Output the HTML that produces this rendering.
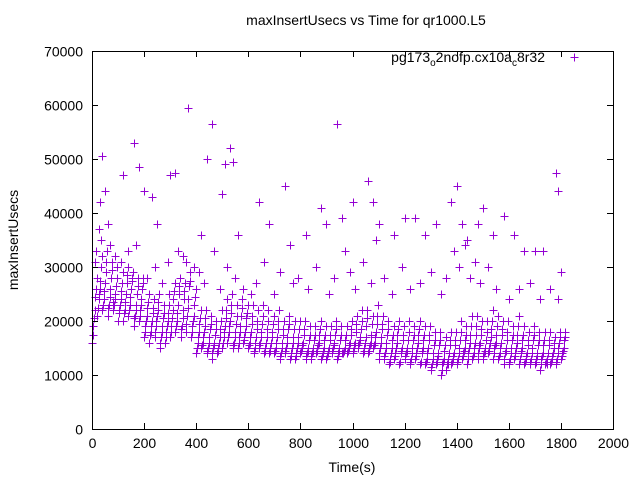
<!DOCTYPE html>
<html><head><meta charset="utf-8"><style>
html,body{margin:0;padding:0;background:#fff;}
svg{display:block;font-family:"Liberation Sans",sans-serif;}
</style></head><body>
<svg id="chart" width="640" height="480" viewBox="0 0 640 480" xmlns="http://www.w3.org/2000/svg">
<text x="366" y="25" font-size="14" text-anchor="middle">maxInsertUsecs vs Time for qr1000.L5</text>
<g id="marks"></g>
<rect x="92.5" y="51.5" width="521" height="378" fill="none" stroke="#000" stroke-width="1"/>
<g id="axes"></g>
<text transform="translate(18,240) rotate(-90)" font-size="14" text-anchor="middle">maxInsertUsecs</text>
<text x="352" y="472" font-size="14" text-anchor="middle">Time(s)</text>
<g>
<text x="545" y="62" font-size="14" text-anchor="end">pg173<tspan font-size="10" dy="4">o</tspan><tspan dy="-4">2nofp.cx10a</tspan><tspan font-size="10" dy="4">c</tspan><tspan dy="-4">8r32</tspan></text>
<path d="M570.5 57.5h8M574.5 53.5v8" stroke="#9400d3" stroke-width="1"/>
</g>
</svg>
<script>
const xTicks=[0,200,400,600,800,1000,1200,1400,1600,1800,2000];
const yTicks=[0,10000,20000,30000,40000,50000,60000,70000];
const bandLo=[16,21,22,21,22,20,20,21,19,20,17,16,17,15,16,17,18,17,18,17,14,15,14,13,14,15,16,15,15,16,15,14,15,14,14,14,13,14,13,13,14,13,13,14,13,13,14,13,14,14,14,15,14,14,15,13,13,12,13,12,13,12,13,12,12,11,12,10,11,12,12,13,12,13,13,13,14,13,13,12,12,13,12,12,12,12,11,12,12,12,13];
const bandMid=[22,26,27,26,25,24,25,26,23,24,21,20,21,19,20,22,23,22,24,21,18,18,17,16,17,19,20,18,19,19,18,17,18,17,17,17,16,17,16,16,16,15,15,16,15,15,16,15,15,16,16,17,17,16,18,17,16,15,16,15,15,15,16,15,15,14,14,13,14,14,15,15,16,16,16,15,17,16,16,15,15,16,15,14,15,14,14,14,14,15,15];
const bandHi=[28,32,33,31,30,29,30,29,28,28,25,24,25,23,25,27,28,27,29,26,22,22,21,20,22,24,25,23,24,23,23,22,23,22,21,22,20,21,20,20,20,19,19,20,19,19,20,19,19,20,21,22,22,21,23,21,20,19,20,19,20,19,20,19,19,18,18,17,18,18,20,19,21,21,20,20,22,21,20,20,19,21,19,18,19,18,18,18,17,18,18];
const bandAlt=[19,24,24,23,23,22,22,23,21,22,19,18,19,17,18,19,20,19,21,19,16,16,15,15,15,17,18,16,17,17,16,15,16,15,15,15,14,15,14,14,15,14,14,15,14,14,15,14,14,15,15,16,15,15,16,15,14,13,14,14,14,13,14,14,13,12,13,12,12,13,13,14,14,14,15,14,15,15,14,14,13,14,14,13,13,13,13,12,13,13,14];
const bandB5=[24.5,27.5,29,28,26.5,25.5,27,27.5,25,26,22.5,21.5,22,20.5,21.5,24,25,24,26.5,23,19.5,19,18.5,17.5,18.5,20.5,21.5,19.5,21,20.5,19.5,18.5,19.5,18.5,18,18.5,17.5,18.5,17,17,17.5,16.5,16.5,17.5,16.5,16.5,17.5,16.5,16.5,17.5,18,18.5,19,17.5,19.5,18.5,17.5,16.5,17.5,16.5,16.5,16.5,17.5,16.5,16.5,15.5,15.5,14.5,15.5,15.5,16.5,16.5,17.5,17.5,17.5,16.5,18.5,17.5,17.5,16.5,16.5,17.5,16.5,15.5,16.5,15.5,15.5,15.5,15,16,16.5];
const bandB6=[17.5,22.5,23,22.5,23.5,21.5,21.5,22,20.5,21,18,17.5,18,16,17,18,19,18.5,19.5,18,15,15.5,14.5,14,14.5,16,17,15.5,16,16.5,15.5,14.5,15.5,14.5,14.5,14.5,13.5,14.5,13.5,13.5,14.5,13.5,13.5,14.5,13.5,13.5,14.5,13.5,14,14.5,14.5,15.5,14.5,14.5,15.5,14,13.5,12.5,13.5,12.5,13.5,12.5,13.5,12.5,12.5,11.5,12.5,11,12,12.5,12.5,13.5,13,13.5,14,13.5,14.5,14,13.5,13,12.5,13.5,13,12.5,12.5,12.5,12,12.5,12.5,12.5,13.5];
const bandB7=[26,30,31,29.5,28,27,28.5,28,26.5,27,23.5,22.5,23.5,21.5,23,25.5,26.5,25.5,27.5,24.5,20.5,20.5,19.5,18.5,20,22,23,21,22.5,21.5,21,20,21,20,19.5,20,18.5,19.5,18.5,18.5,18.5,17.5,17.5,18.5,17.5,17.5,18.5,17.5,17.5,18.5,19.5,20,20.5,19.5,21,19.5,18.5,17.5,18.5,17.5,18,17.5,18.5,17.5,17.5,16.5,16.5,15.5,16.5,16.5,18,17.5,19,19,18.5,18,20,19,18.5,18,17.5,19,17.5,16.5,17.5,16.5,16.5,16.5,16,17,17];
const bandB8=[20.5,25,25.5,24.5,24,23,23.5,24.5,22,23,20,19,20,18,19,20.5,21.5,20.5,22.5,20,17,17,16,15.5,16,18,19,17,18,18,17,16,17,16,16,16,15,16,15,15,15.5,14.5,14.5,15.5,14.5,14.5,15.5,14.5,14.5,15.5,15.5,16.5,16,15.5,17,16,15,14,15,14.5,14.5,14,15,14.5,14,13,13.5,12.5,13,13.5,14,14.5,15,15,15.5,14.5,16,15.5,15,14.5,14,15,14.5,13.5,14,13.5,13.5,13,13.5,14,14.5];
const scatT=[15,35,70,90,110,140,170,210,240,270,290,330,350,390,410,430,470,490,520,550,580,610,630,660,700,720,770,790,830,860,910,930,970,990,1010,1040,1070,1090,1120,1150,1190,1220,1260,1300,1340,1360,1390,1410,1430,1450,1470,1490,1520,1550,1600,1640,1680,1720,1760,1790];
const scatV=[33,35,34,32,31,33,34,28,30,27,31,33,32,30,29,27,33,26,30,28,26,25,27,31,25,29,27,28,26,30,25,28,33,29,26,31,27,35,28,25,30,26,27,29,25,28,33,30,34,28,31,27,30,26,24,26,27,24,26,24];
const outT=[10,25,30,40,50,60,120,160,180,200,230,250,300,320,360,370,420,440,460,500,510,530,540,560,640,680,740,760,820,880,900,940,960,1000,1060,1080,1100,1160,1200,1240,1280,1320,1380,1400,1420,1440,1480,1500,1540,1580,1620,1660,1700,1730,1780,1790,1800];
const outV=[31,37,42,50.5,44,38,47,53,48.5,44,43,38,47,47.5,31,59.5,36,50,56.5,43.5,49,52,49.5,36,42,38,45,34,36,41,38,56.5,39,42,46,42,38,36,39,39,36,38,42,45,38,35,38,41,36,39.5,36,33,33,33,47.5,44,29];
const X0=92,X1=613,Y0=429,Y1=51;
function sx(t){return X0+t/2000*(X1-X0);}
function sy(v){return Y0-v/70000*(Y0-Y1);}
const NS="http://www.w3.org/2000/svg";
const marks=document.getElementById('marks');
let d="";
function plus(t,v){const x=Math.round(sx(t))+0.5,y=Math.round(sy(v))+0.5;d+=`M${x-4} ${y}h8M${x} ${y-4}v8`;}
[bandLo,bandB6,bandAlt,bandB8,bandMid,bandB5,bandB7,bandHi].forEach((arr,si)=>{arr.forEach((v,i)=>{plus(i*20+si*2.5,v*1000);});});
scatT.forEach((t,i)=>plus(t,scatV[i]*1000));
outT.forEach((t,i)=>plus(t,outV[i]*1000));
const p=document.createElementNS(NS,'path');


p.setAttribute('d',d);p.setAttribute('stroke','#9400d3');p.setAttribute('stroke-width','1');p.setAttribute('fill','none');
marks.appendChild(p);
const axes=document.getElementById('axes');
xTicks.forEach(t=>{const x=Math.round(sx(t))+0.5;
 const l=document.createElementNS(NS,'path');
 
 
 l.setAttribute('d',`M${x} ${Y0}v-6M${x} ${Y1}v6`);l.setAttribute('stroke','#000');axes.appendChild(l);
 const tx=document.createElementNS(NS,'text');
 
 
 tx.setAttribute('x',x);tx.setAttribute('y',448);tx.setAttribute('font-size','14');tx.setAttribute('text-anchor','middle');tx.textContent=t;axes.appendChild(tx);});
yTicks.forEach(v=>{const y=Math.round(sy(v))+0.5;
 const l=document.createElementNS(NS,'path');
 
 
 l.setAttribute('d',`M${X0} ${y}h6M${X1} ${y}h-6`);l.setAttribute('stroke','#000');axes.appendChild(l);
 const tx=document.createElementNS(NS,'text');
 
 
 tx.setAttribute('x',83);tx.setAttribute('y',y+5);tx.setAttribute('font-size','14');tx.setAttribute('text-anchor','end');tx.textContent=v;axes.appendChild(tx);});
</script>
</body></html>
